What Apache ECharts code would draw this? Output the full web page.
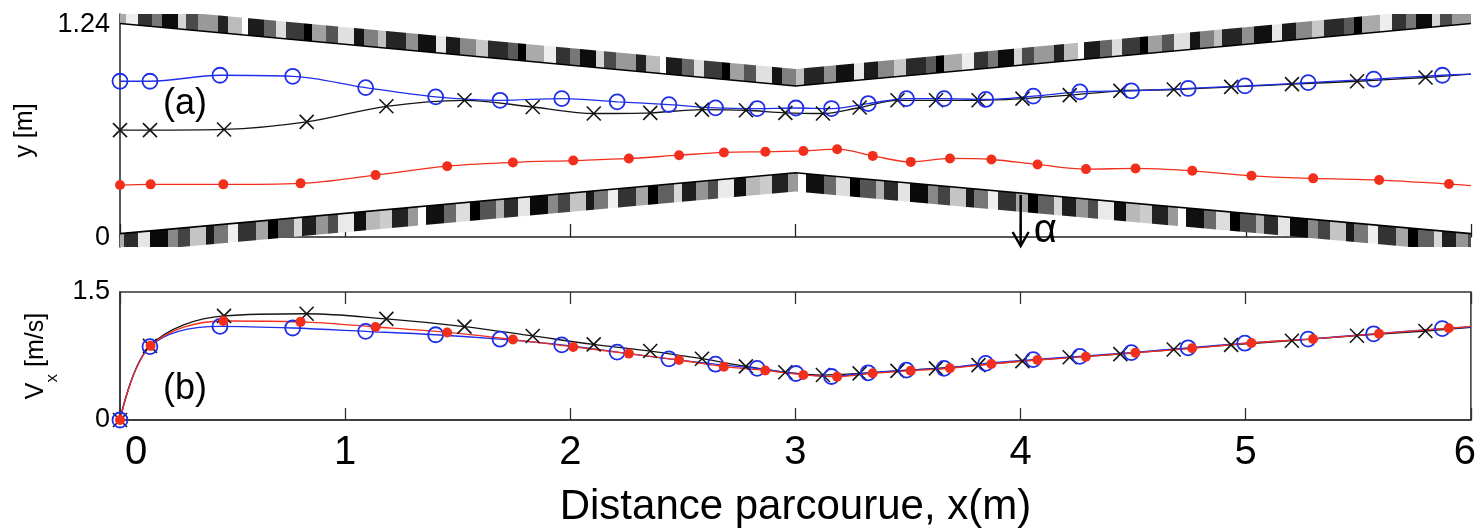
<!DOCTYPE html>
<html><head><meta charset="utf-8">
<script src="https://cdn.jsdelivr.net/npm/echarts@6/dist/echarts.min.js"></script>
<style>html,body{margin:0;padding:0;background:#fff;}#c{width:1479px;height:531px;}</style>
</head><body><div id="c"></div>
<script>
// ================= DATA =================
const lineEndX = 6;
// markers: x positions (m)
const blackX = [0, 0.133, 0.462, 0.829, 1.183, 1.530, 1.833, 2.104, 2.355, 2.585, 2.780, 2.955, 3.122, 3.285, 3.453, 3.624, 3.813, 4.008, 4.218, 4.443, 4.680, 4.935, 5.205, 5.494, 5.798];
const blueX  = [0, 0.133, 0.444, 0.767, 1.091, 1.402, 1.688, 1.962, 2.208, 2.438, 2.645, 2.830, 3.002, 3.160, 3.323, 3.493, 3.660, 3.845, 4.056, 4.263, 4.492, 4.744, 4.996, 5.277, 5.568, 5.873];
const redX   = [0, 0.136, 0.459, 0.802, 1.135, 1.453, 1.745, 2.013, 2.260, 2.483, 2.682, 2.866, 3.035, 3.185, 3.343, 3.512, 3.686, 3.870, 4.075, 4.290, 4.510, 4.762, 5.025, 5.299, 5.592, 5.902];
// panel (a): y position (m)
const blackYa = [0.623, 0.623, 0.627, 0.671, 0.762, 0.797, 0.758, 0.720, 0.724, 0.743, 0.739, 0.724, 0.720, 0.755, 0.797, 0.797, 0.797, 0.807, 0.827, 0.852, 0.860, 0.875, 0.891, 0.908, 0.930];
const blueYa  = [0.908, 0.908, 0.943, 0.937, 0.871, 0.817, 0.797, 0.807, 0.788, 0.772, 0.753, 0.749, 0.752, 0.749, 0.778, 0.807, 0.807, 0.802, 0.821, 0.846, 0.852, 0.866, 0.881, 0.900, 0.920, 0.943];
const redYa   = [0.303, 0.307, 0.307, 0.313, 0.361, 0.413, 0.435, 0.446, 0.458, 0.477, 0.493, 0.497, 0.502, 0.512, 0.473, 0.438, 0.458, 0.452, 0.423, 0.396, 0.400, 0.386, 0.357, 0.342, 0.332, 0.309];
// panel (b): Vx (m/s)
const blackYb = [0, 0.869, 1.220, 1.245, 1.185, 1.095, 0.985, 0.886, 0.808, 0.718, 0.628, 0.560, 0.527, 0.546, 0.576, 0.605, 0.643, 0.690, 0.735, 0.772, 0.826, 0.880, 0.929, 0.988, 1.043];
const blueYb  = [0, 0.860, 1.097, 1.078, 1.039, 0.999, 0.947, 0.880, 0.795, 0.717, 0.654, 0.605, 0.545, 0.510, 0.553, 0.585, 0.605, 0.664, 0.707, 0.746, 0.790, 0.846, 0.900, 0.948, 1.010, 1.071];
const redYb   = [0, 0.869, 1.160, 1.150, 1.090, 1.026, 0.943, 0.856, 0.778, 0.703, 0.625, 0.581, 0.528, 0.508, 0.547, 0.578, 0.606, 0.656, 0.703, 0.742, 0.789, 0.840, 0.903, 0.950, 1.012, 1.075];
// line values at x = 6 (black, blue, red)
const endYa = [0.949, 0.949, 0.300];
const endYb = [1.085, 1.090, 1.097];
// channel walls
const wallX = [0, 3, 6];
const topWallInner = [1.245, 0.880, 1.245];
const topWallOuter = [1.345, 0.980, 1.345];
const botWallInner = [0.020, 0.375, 0.020];
const botWallOuter = [-0.090, 0.265, -0.090];
// arrow alpha
const arrowX = 4, arrowTopY = 0.245, arrowBottomY = -0.058;
// ticks
const yTicksA = [0, 1.24];

// ================= STYLE =================
const FONT = '"Liberation Sans", Arial, sans-serif';
const BLUE = '#1f2ee8', RED = '#f22e1c', BLACK = '#151515';
const STRIPE_SCALE = 2;
const topStripes = [[9,'#111'],[5,'#e8e8e8'],[7,'#1a1a1a'],[8,'#888'],[6,'#c8c8c8'],[10,'#2a2a2a'],[5,'#5a5a5a'],[4,'#000'],[9,'#aaa'],[6,'#eee'],[7,'#333'],[5,'#777'],[8,'#0d0d0d'],[4,'#d5d5d5'],[6,'#4a4a4a'],[10,'#999'],[5,'#222'],[7,'#bbb'],[3,'#fff'],[8,'#1c1c1c'],[6,'#666'],[5,'#ddd'],[9,'#3a3a3a'],[4,'#000'],[7,'#a0a0a0'],[6,'#555'],[8,'#e0e0e0'],[5,'#151515'],[7,'#808080'],[4,'#c0c0c0'],[10,'#262626'],[6,'#909090']];
const botStripes = [[6,'#ccc'],[8,'#222'],[5,'#999'],[4,'#fff'],[9,'#111'],[6,'#6a6a6a'],[7,'#ddd'],[5,'#000'],[8,'#555'],[4,'#b0b0b0'],[7,'#2c2c2c'],[6,'#e5e5e5'],[9,'#0a0a0a'],[5,'#888'],[6,'#444'],[8,'#c5c5c5'],[4,'#1a1a1a'],[7,'#777'],[5,'#f0f0f0'],[9,'#333'],[6,'#a5a5a5'],[5,'#000'],[8,'#606060'],[4,'#d8d8d8'],[7,'#1f1f1f'],[6,'#959595'],[5,'#4d4d4d'],[8,'#eaeaea'],[6,'#101010'],[7,'#b8b8b8']];
function makeStripes(list) {
  const w = list.reduce((s, d) => s + d[0] * STRIPE_SCALE, 0);
  const c = document.createElement('canvas');
  c.width = w; c.height = 64;
  const g = c.getContext('2d');
  let x = 0;
  list.forEach(([sw, col]) => { g.fillStyle = col; g.fillRect(x, 0, sw * STRIPE_SCALE, 64); x += sw * STRIPE_SCALE; });
  return c;
}
const topPattern = makeStripes(topStripes);
const botPattern = makeStripes(botStripes);

function wallSeries(inner, outer, pattern) {
  return {
    type: 'custom', xAxisIndex: 0, yAxisIndex: 0, clip: true, z: 1, silent: true,
    data: [[0, 0]],
    renderItem: (params, api) => {
      const edge = wallX.map((x, i) => api.coord([x, inner[i]]));
      const back = wallX.map((x, i) => api.coord([x, outer[i]])).reverse();
      return { type: 'group', children: [
        { type: 'polygon', shape: { points: edge.concat(back) }, style: { fill: { image: pattern, repeat: 'repeat' } } },
        { type: 'polyline', shape: { points: edge }, style: { stroke: '#000', lineWidth: 1.6, fill: null } }
      ] };
    }
  };
}

function pts(xs, ys, endY) {
  const d = xs.map((x, i) => [x, ys[i]]);
  d.push({ value: [lineEndX, endY], symbol: 'none' });
  return d;
}
const X_PATH = 'path://M0,0L10,10M10,0L0,10';
function lineSeries(xi, yi, data, kind) {
  const base = { type: 'line', xAxisIndex: xi, yAxisIndex: yi, data, smooth: 0.35, clip: false, silent: true, z: 3 };
  if (kind === 'black') return Object.assign(base, {
    symbol: X_PATH, symbolSize: 14,
    lineStyle: { color: BLACK, width: 1.3 },
    itemStyle: { color: 'rgba(0,0,0,0)', borderColor: BLACK, borderWidth: 1.6 } });
  if (kind === 'blue') return Object.assign(base, {
    symbol: 'circle', symbolSize: 15,
    lineStyle: { color: BLUE, width: 1.3 },
    itemStyle: { color: 'rgba(0,0,0,0)', borderColor: BLUE, borderWidth: 1.8 } });
  return Object.assign(base, {
    symbol: 'circle', symbolSize: 10,
    lineStyle: { color: RED, width: 1.3 },
    itemStyle: { color: RED, borderWidth: 0 } });
}

const chart = echarts.init(document.getElementById('c'), null, { renderer: 'canvas' });
chart.setOption({
  animation: false,
  backgroundColor: '#fff',
  textStyle: { fontFamily: FONT, color: '#000' },
  grid: [
    { left: 120, right: 8, top: 14, height: 233 },
    { left: 120, right: 8, top: 292, height: 128, show: true, borderColor: '#333', borderWidth: 1.5 }
  ],
  xAxis: [
    { gridIndex: 0, type: 'value', min: 0, max: 6, interval: 1,
      axisLine: { lineStyle: { color: '#222', width: 1.5 } },
      axisTick: { inside: true, length: 13, lineStyle: { color: '#222', width: 1.3 } },
      axisLabel: { show: false }, splitLine: { show: false } },
    { gridIndex: 1, type: 'value', min: 0, max: 6, interval: 1,
      axisLine: { lineStyle: { color: '#333', width: 1.5 } },
      axisTick: { inside: true, length: 12, lineStyle: { color: '#333', width: 1.3 } },
      axisLabel: { fontSize: 40, color: '#000', margin: 13, fontFamily: FONT,
        formatter: v => v === 0 ? '{z|0}' : (v === 6 ? '{r|6}' : String(v)),
        rich: { z: { fontSize: 40, fontFamily: FONT, padding: [0, 0, 0, 32] },
                r: { fontSize: 40, fontFamily: FONT, padding: [0, 12, 0, 0] } } },
      splitLine: { show: false },
      name: 'Distance parcourue, x(m)', nameLocation: 'middle', nameGap: 66,
      nameTextStyle: { fontSize: 42, color: '#000', fontFamily: FONT } },
    { gridIndex: 1, type: 'value', min: 0, max: 6, interval: 1, position: 'top',
      axisLine: { show: false },
      axisTick: { inside: true, length: 12, lineStyle: { color: '#333', width: 1.3 } },
      axisLabel: { show: false }, splitLine: { show: false } }
  ],
  yAxis: [
    { gridIndex: 0, type: 'value', min: -0.058, max: 1.30,
      axisLine: { show: true, lineStyle: { color: '#222', width: 1.5 } },
      axisTick: { show: false }, splitLine: { show: false },
      axisLabel: { customValues: yTicksA, fontSize: 27, color: '#000', margin: 10, fontFamily: FONT },
      name: 'y [m]', nameLocation: 'middle', nameGap: 82,
      nameTextStyle: { fontSize: 25, color: '#000', fontFamily: FONT } },
    { gridIndex: 1, type: 'value', min: 0, max: 1.5, interval: 1.5,
      axisLine: { show: true, lineStyle: { color: '#333', width: 1.5 } },
      axisTick: { show: false }, splitLine: { show: false },
      axisLabel: { fontSize: 27, color: '#000', margin: 10, fontFamily: FONT },
      name: '{v|V}{s|x}{v| [m/s]}', nameLocation: 'middle', nameGap: 70,
      nameTextStyle: { fontSize: 25, color: '#000', fontFamily: FONT,
        rich: { v: { fontSize: 25, fontFamily: FONT, lineHeight: 26, verticalAlign: 'top' },
                s: { fontSize: 17, fontFamily: FONT, lineHeight: 17, padding: [20, 0, 0, 0], verticalAlign: 'top' } } } }
  ],
  graphic: [
    { type: 'text', left: 163, top: 86, style: { text: '(a)', font: '36px ' + FONT, fill: '#000' } },
    { type: 'text', left: 163, top: 371, style: { text: '(b)', font: '36px ' + FONT, fill: '#000' } }
  ],
  series: [
    wallSeries(topWallInner, topWallOuter, topPattern),
    wallSeries(botWallInner, botWallOuter, botPattern),
    lineSeries(0, 0, pts(redX, redYa, endYa[2]), 'red'),
    lineSeries(0, 0, pts(blackX, blackYa, endYa[0]), 'black'),
    lineSeries(0, 0, pts(blueX, blueYa, endYa[1]), 'blue'),
    lineSeries(1, 1, pts(blackX, blackYb, endYb[0]), 'black'),
    lineSeries(1, 1, pts(blueX, blueYb, endYb[1]), 'blue'),
    lineSeries(1, 1, pts(redX, redYb, endYb[2]), 'red'),
    { type: 'custom', xAxisIndex: 0, yAxisIndex: 0, clip: false, z: 4, silent: true,
      data: [[arrowX, arrowTopY]],
      renderItem: (params, api) => {
        const t = api.coord([arrowX, arrowTopY]);
        const b = api.coord([arrowX, arrowBottomY]);
        return { type: 'group', children: [
          { type: 'line', shape: { x1: t[0], y1: t[1], x2: b[0], y2: b[1] - 1 }, style: { stroke: '#000', lineWidth: 2.5 } },
          { type: 'polyline', shape: { points: [[b[0] - 8, b[1] - 15], [b[0], b[1] - 1], [b[0] + 8, b[1] - 15]] }, style: { stroke: '#000', lineWidth: 2.5, fill: null } },
          { type: 'text', x: b[0] + 13, y: b[1] - 16, style: { text: 'α', font: '40px ' + FONT, fill: '#000', verticalAlign: 'middle', align: 'left' } }
        ] };
      } }
  ]
});
</script></body></html>
